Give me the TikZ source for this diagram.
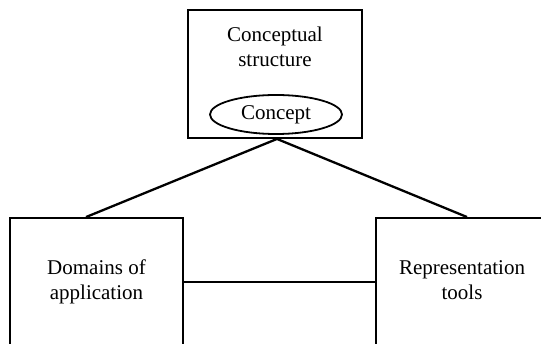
\documentclass[tikz,border=0pt]{standalone}
\usepackage{fontspec}
\setmainfont{Liberation Serif}
\usetikzlibrary{shapes.geometric}
\begin{document}
\begin{tikzpicture}[x=1pt,y=-1pt,
  lbl/.style={align=center, font=\fontsize{21}{25}\selectfont},
  box/.style={draw, line width=1.9pt, rectangle, inner sep=0pt, lbl},
  conn/.style={line width=2.3pt}]
\useasboundingbox (0,0) rectangle (541,344);
\clip (0,0) rectangle (541,344);
\node[box, minimum width=174pt, minimum height=128pt] (cs) at (275,74) {};
\node[lbl, inner sep=0pt] (cst) at (275,47) {Conceptual\\structure};
\node[draw, ellipse, line width=1.8pt, minimum width=132pt, minimum height=39pt, inner sep=0pt, lbl] (con) at (276,114.5) {Concept};
\node[box, minimum width=173pt, minimum height=128pt] (dom) at (96.5,282) {Domains of\\application};
\node[box, minimum width=200pt, minimum height=128pt, anchor=west] (rep) at (375,282) {};
\node[lbl, inner sep=0pt] (rept) at (462,280) {Representation\\tools};
\draw[conn] ([xshift=77pt]dom.north west) -- ([xshift=2pt]cs.south) -- ([xshift=92pt]rep.north west);
\draw[line width=1.8pt] (dom.east) -- (rep.west);
\end{tikzpicture}
\end{document}
